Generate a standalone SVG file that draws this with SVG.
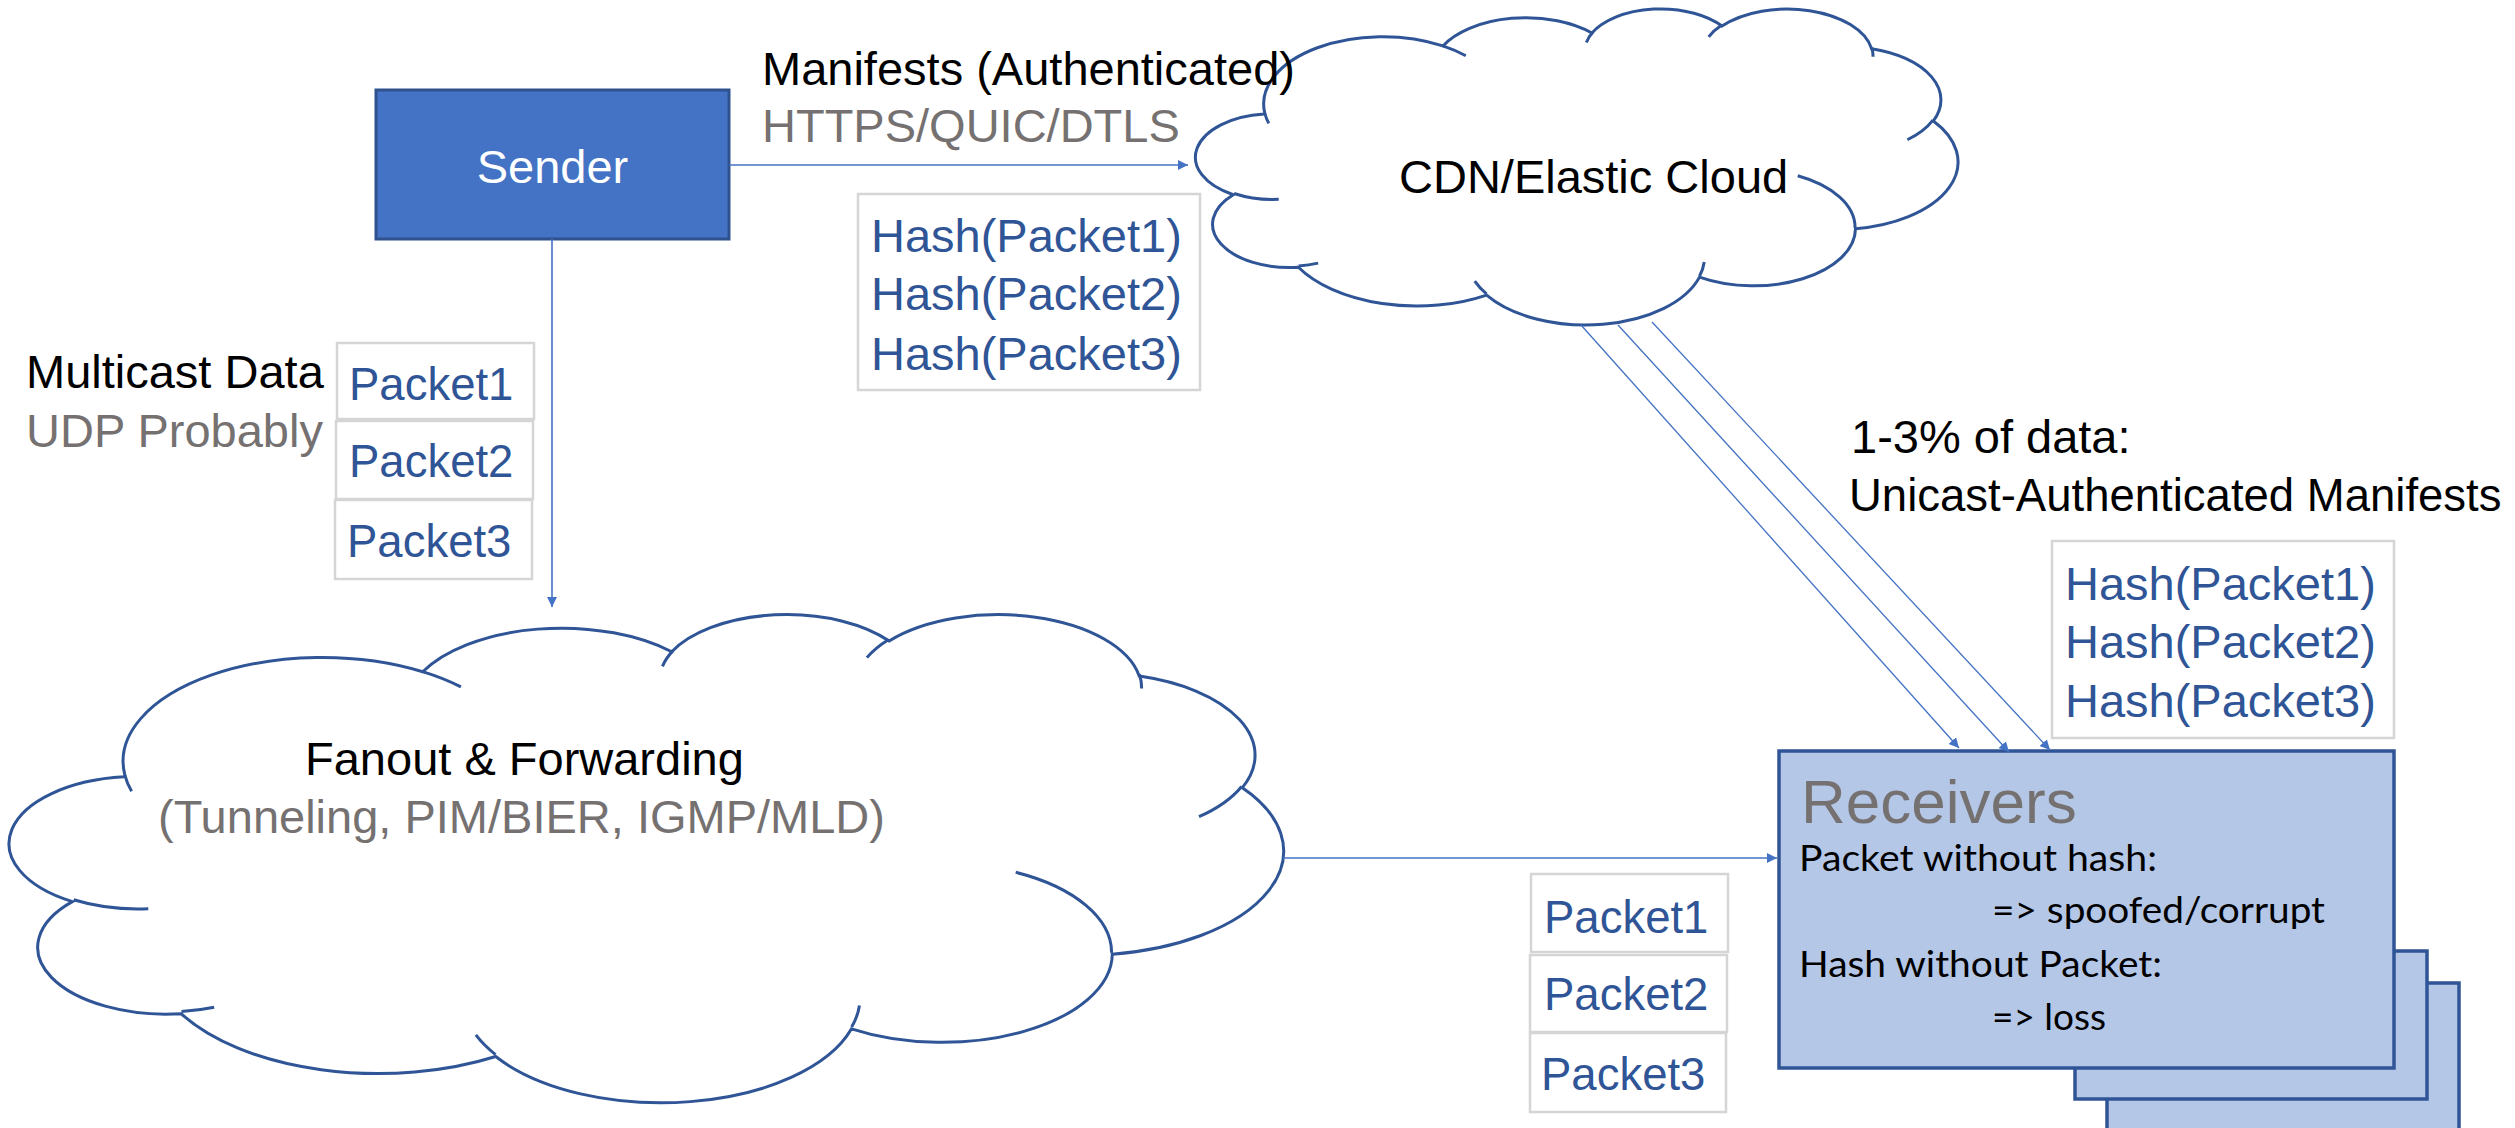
<svg xmlns="http://www.w3.org/2000/svg" xmlns:xlink="http://www.w3.org/1999/xlink" width="2515" height="1128" viewBox="0 0 2515 1128">
  <style>
    .txt { font-family: "Liberation Sans", Arial, Helvetica, sans-serif; font-size: 47px; }
    .blk { fill: #000000; }
    .gry { fill: #767171; }
    .blu { fill: #2F5597; }
    .wht { fill: #FFFFFF; }
    .pkt { font-size: 45.5px; }
    .big { font-size: 62px; }
    .note { font-family: Lato, "Open Sans", sans-serif; font-size: 36px; fill: #000000; }
    .cloud-body { fill: #FFFFFF; stroke: #2F5597; stroke-width: 3; }
    .cloud-hook { fill: none; stroke: #2F5597; stroke-width: 3; }
    .gbox { fill: #FFFFFF; stroke: #D5D5D5; stroke-width: 2.5; }
    .rcv { fill: #B4C7E7; stroke: #2F5597; stroke-width: 3.5; }
    .link { fill: none; stroke: #4472C4; stroke-width: 1.6; marker-end: url(#arrow); }
    .thin { stroke-width: 1.3; }
  </style>
  <defs>
    <marker id="arrow" markerUnits="userSpaceOnUse" markerWidth="11" markerHeight="11" refX="10" refY="5" orient="auto">
      <path d="M0,0 L10,5 L0,10 Z" fill="#4472C4"/>
    </marker>
    <!-- cloud outline in a 43200 x 43200 unit box -->
    <path id="cloudOutline" vector-effect="non-scaling-stroke" d="M3900 14370 A6753 9190 0 0 1 14005 5202 A5333 7267 0 0 1 22456 3431 A4365 5945 0 0 1 29834 2481 A4857 6595 0 0 1 38320 5576 A5333 7273 0 0 1 41820 15460 A6775 9220 0 0 1 37406 30202 A5785 7867 0 0 1 28557 36812 A6752 9215 0 0 1 16483 39266 A7720 10543 0 0 1 5807 35469 A4360 5918 0 0 1 2116 25547 A4345 5945 0 0 1 3866 14503 Z"/>
    <!-- inner lobe continuations -->
    <path id="cloudHooks" vector-effect="non-scaling-stroke" d="M4693 26177 A4345 5945 0 0 1 2160 25380 M6928 34899 A4360 5918 0 0 1 5820 35280 M16478 39090 A6752 9215 0 0 1 15809 37348 M28827 34751 A6752 9215 0 0 1 28561 36660 M34129 22954 A5785 7867 0 0 1 37381 30090 M41798 15354 A5333 7273 0 0 1 40349 18031 M38324 5426 A4857 6595 0 0 1 38400 6689 M29078 3952 A4857 6595 0 0 1 29820 2340 M22141 4720 A4365 5945 0 0 1 22500 3330 M14000 5192 A6753 9190 0 0 1 15302 6543 M4127 15789 A6753 9190 0 0 1 3900 14370"/>
  </defs>

  <rect width="2515" height="1128" fill="#FFFFFF"/>

  <!-- CDN / Elastic Cloud -->
  <g id="cdn-cloud">
    <g transform="translate(1196,7.9) scale(0.017631,0.0073135)">
      <use xlink:href="#cloudOutline" class="cloud-body"/>
      <use xlink:href="#cloudHooks" class="cloud-hook"/>
    </g>
    <text class="txt blk" x="1399" y="193">CDN/Elastic Cloud</text>
  </g>

  <!-- Fanout & Forwarding cloud -->
  <g id="fanout-cloud">
    <g transform="translate(10,613) scale(0.029468,0.011296)">
      <use xlink:href="#cloudOutline" class="cloud-body"/>
      <use xlink:href="#cloudHooks" class="cloud-hook"/>
    </g>
    <text class="txt blk" x="305" y="775">Fanout &amp; Forwarding</text>
    <text class="txt gry" x="158" y="833">(Tunneling, PIM/BIER, IGMP/MLD)</text>
  </g>

  <!-- Sender -->
  <g id="sender">
    <rect x="376" y="90" width="353" height="149" fill="#4472C4" stroke="#2F528F" stroke-width="3"/>
    <text class="txt wht" x="552.5" y="183" text-anchor="middle">Sender</text>
  </g>

  <!-- Receivers (stacked) -->
  <g id="receivers">
    <rect class="rcv" x="2107" y="983" width="352" height="160"/>
    <rect class="rcv" x="2075" y="951" width="352" height="148"/>
    <rect class="rcv" x="1779" y="751" width="615" height="317"/>
    <text class="txt gry big" x="1801" y="823">Receivers</text>
    <text class="note" x="1799" y="871" textLength="358" lengthAdjust="spacingAndGlyphs">Packet without hash:</text>
    <text class="note" x="1992" y="923" textLength="333" lengthAdjust="spacingAndGlyphs">=&gt; spoofed/corrupt</text>
    <text class="note" x="1799" y="977" textLength="363" lengthAdjust="spacingAndGlyphs">Hash without Packet:</text>
    <text class="note" x="1992" y="1030" textLength="114" lengthAdjust="spacingAndGlyphs">=&gt; loss</text>
  </g>

  <!-- Manifest hashes sent to the CDN -->
  <g id="hashes-cdn">
    <rect class="gbox" x="858" y="194" width="342" height="196"/>
    <text class="txt blu" x="871" y="252">Hash(Packet1)</text>
    <text class="txt blu" x="871" y="310">Hash(Packet2)</text>
    <text class="txt blu" x="871" y="370">Hash(Packet3)</text>
  </g>

  <!-- Manifest hashes delivered to receivers -->
  <g id="hashes-rcv">
    <rect class="gbox" x="2052" y="541" width="342" height="197"/>
    <text class="txt blu" x="2065" y="600">Hash(Packet1)</text>
    <text class="txt blu" x="2065" y="658">Hash(Packet2)</text>
    <text class="txt blu" x="2065" y="717">Hash(Packet3)</text>
  </g>

  <!-- Multicast packets from the sender -->
  <g id="packets-sender">
    <rect class="gbox" x="337" y="343" width="197" height="76"/>
    <rect class="gbox" x="336" y="421" width="197" height="78"/>
    <rect class="gbox" x="335" y="500" width="197" height="79"/>
    <text class="txt blu pkt" x="349" y="400">Packet1</text>
    <text class="txt blu pkt" x="349" y="477">Packet2</text>
    <text class="txt blu pkt" x="347" y="557">Packet3</text>
  </g>

  <!-- Multicast packets to the receivers -->
  <g id="packets-rcv">
    <rect class="gbox" x="1531" y="874" width="197" height="78"/>
    <rect class="gbox" x="1530" y="955" width="197" height="77"/>
    <rect class="gbox" x="1530" y="1033" width="196" height="79"/>
    <text class="txt blu pkt" x="1544" y="933">Packet1</text>
    <text class="txt blu pkt" x="1544" y="1010">Packet2</text>
    <text class="txt blu pkt" x="1541" y="1090">Packet3</text>
  </g>

  <!-- Labels -->
  <g id="labels">
    <text class="txt blk" x="762" y="85">Manifests (Authenticated)</text>
    <text class="txt gry" x="762" y="142">HTTPS/QUIC/DTLS</text>
    <text class="txt blk" x="26" y="388">Multicast Data</text>
    <text class="txt gry" x="26" y="447">UDP Probably</text>
    <text class="txt blk" x="1851" y="453">1-3% of data:</text>
    <text class="txt blk pkt" x="1849" y="511">Unicast-Authenticated Manifests</text>
  </g>

  <!-- Connectors -->
  <g id="connectors">
    <line class="link" x1="729" y1="165" x2="1188" y2="165"/>
    <line class="link" x1="552" y1="239" x2="552" y2="607"/>
    <line class="link" x1="1283" y1="858" x2="1777" y2="858"/>
    <line class="link thin" x1="1581" y1="325" x2="1959" y2="748"/>
    <line class="link thin" x1="1618" y1="325" x2="2009" y2="752"/>
    <line class="link thin" x1="1652" y1="322" x2="2050" y2="750"/>
  </g>
</svg>
